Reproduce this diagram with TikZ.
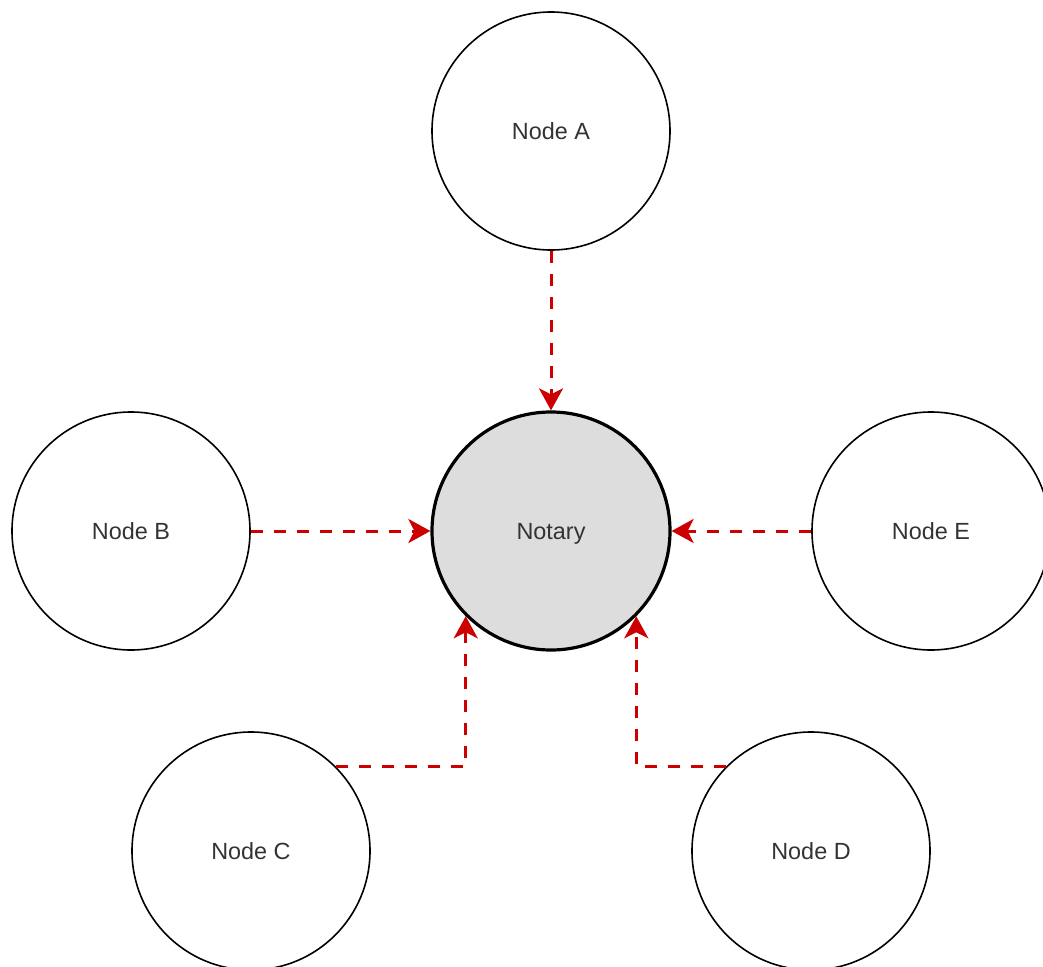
\documentclass[tikz,border=0pt]{standalone}
\usepackage{fontspec}
\setmainfont{Liberation Sans}
\usetikzlibrary{arrows.meta}
\definecolor{linkred}{HTML}{CC0000}
\definecolor{notaryfill}{HTML}{DDDDDD}
\definecolor{txt}{HTML}{333333}
\tikzset{
  peer/.style={circle, draw=black, line width=1.6pt, fill=white, minimum size=238pt, inner sep=0pt, font=\fontsize{23.4}{28}\selectfont, text=txt, text height=16.8pt, text depth=0pt},
  notary/.style={peer, line width=3.2pt, fill=notaryfill},
  link/.style={draw=linkred, line width=3pt, dash pattern=on 12pt off 11pt,
    -{Stealth[length=22pt, width=24pt, inset=6pt, fill=linkred]}}
}
\begin{document}
\begin{tikzpicture}[x=1pt,y=-1pt]
\useasboundingbox (0,0) rectangle (1043,966);
\fill[white] (0,0) rectangle (1043,966);
\node[notary] (N) at (551,531) {Notary};
\node[peer] (A) at (551,131) {Node A};
\node[peer] (B) at (131,531) {Node B};
\node[peer] (E) at (931,531) {Node E};
\node[peer] (C) at (251,851) {Node C};
\node[peer] (D) at (811,851) {Node D};
\draw[link] (A.south) -- (N.north);
\draw[link] (B.east) -- (N.west);
\draw[link] (E.west) -- (N.east);
\draw[link] (C.45) -| (N.225);
\draw[link] (D.135) -| (N.315);
\end{tikzpicture}
\end{document}
